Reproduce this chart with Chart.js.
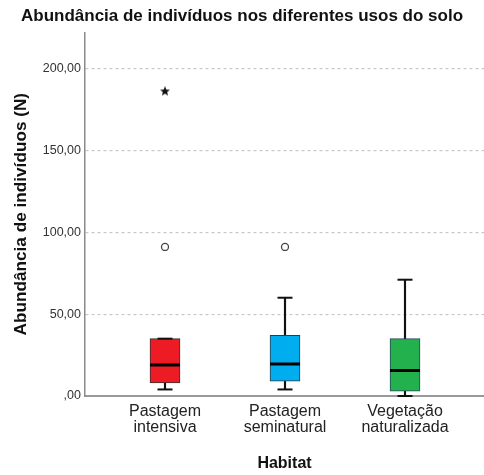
<!DOCTYPE html>
<html>
<head>
<meta charset="utf-8">
<script src="https://cdn.jsdelivr.net/npm/chart.js@4/dist/chart.umd.min.js"></script>
<style>
  html, body { margin: 0; padding: 0; background: #fff; }
  #wrap { width: 484px; height: 475px; }
</style>
</head>
<body>
<div id="wrap"><canvas id="c" width="484" height="475"></canvas></div>
<script>
// Habitat groups (x-axis categories, two-line labels)
const categories = [
  ['Pastagem', 'intensiva'],
  ['Pastagem', 'seminatural'],
  ['Vegetação', 'naturalizada']
];
// Box-plot summary per habitat
const whiskerLow  = [4, 4, 0];
const q1          = [8, 9, 3];
const median      = [19, 19.5, 15.5];
const q3          = [35, 37, 35];
const whiskerHigh = [35, 60, 71];
// Outliers (circles) and extreme values (stars)
const outliers = [[91], [91], []];
const extremes = [[186], [], []];
// Y-axis tick values
const yTicks = [0, 50, 100, 150, 200];

const boxColors = ['#ED1C24', '#00AEEF', '#22B14C'];
const boxBorders = ['#333333', '#2f3a44', '#2a4660'];
const FONT = '"Liberation Sans", Arial, sans-serif';

const xs = categories.map((_, i) => i + 1);

// filled five-point star used as marker for extreme values
function makeStar(size, outer, inner) {
  const c = document.createElement('canvas');
  c.width = size; c.height = size;
  const g = c.getContext('2d');
  const cx = size / 2, cy = size / 2;
  g.beginPath();
  for (let k = 0; k < 10; k++) {
    const r = k % 2 === 0 ? outer : inner;
    const a = -Math.PI / 2 + k * Math.PI / 5;
    const px = cx + r * Math.cos(a), py = cy + r * Math.sin(a);
    if (k === 0) g.moveTo(px, py); else g.lineTo(px, py);
  }
  g.closePath();
  g.fillStyle = '#111';
  g.fill();
  return c;
}
const starImg = makeStar(12, 5.2, 2.2);

const boxData = xs.map((x, i) => ({ x, y: [q1[i], q3[i]] }));
const whiskerData = [];
xs.forEach((x, i) => {
  whiskerData.push({ x, y: [whiskerLow[i], q1[i]] });
  whiskerData.push({ x, y: [q3[i], whiskerHigh[i]] });
});
const medianData = xs.map((x, i) => ({ x, y: median[i] }));
const capData = [];
xs.forEach((x, i) => {
  capData.push({ x, y: whiskerLow[i] });
  capData.push({ x, y: whiskerHigh[i] });
});
const outlierData = [];
outliers.forEach((arr, i) => arr.forEach(v => outlierData.push({ x: xs[i], y: v })));
const extremeData = [];
extremes.forEach((arr, i) => arr.forEach(v => extremeData.push({ x: xs[i], y: v })));

const fmt = v => (v === 0 ? ',00' : v.toFixed(2).replace('.', ','));

new Chart(document.getElementById('c'), {
  type: 'bar',
  data: {
    datasets: [
      {
        type: 'bar', data: boxData, order: 2, grouped: false,
        barThickness: 30, backgroundColor: boxColors, borderColor: boxBorders,
        borderWidth: 1, borderSkipped: false
      },
      {
        type: 'bar', data: whiskerData, order: 3, grouped: false,
        barThickness: 1.5, backgroundColor: '#111', borderWidth: 0
      },
      {
        type: 'line', data: capData, order: 1, showLine: false, clip: false,
        pointStyle: 'line', pointRadius: 7.5, pointBorderWidth: 2, pointBorderColor: '#111'
      },
      {
        type: 'line', data: medianData, order: 1, showLine: false,
        pointStyle: 'line', pointRadius: 15, pointBorderWidth: 3, pointBorderColor: '#000'
      },
      {
        type: 'line', data: outlierData, order: 0, showLine: false,
        pointStyle: 'circle', pointRadius: 3.5, pointBackgroundColor: '#fff',
        pointBorderColor: '#444', pointBorderWidth: 1.3
      },
      {
        type: 'line', data: extremeData, order: 0, showLine: false,
        pointStyle: starImg
      }
    ]
  },
  options: {
    responsive: false,
    animation: false,
    events: [],
    layout: { padding: 0, autoPadding: false },
    plugins: {
      legend: { display: false },
      tooltip: { enabled: false },
      title: {
        display: true,
        text: 'Abundância de indivíduos nos diferentes usos do solo',
        color: '#111',
        font: { family: FONT, size: 17, weight: 'bold' },
        padding: { top: 6, bottom: 6 }
      }
    },
    scales: {
      x: {
        type: 'linear',
        offset: false,
        min: 1 - 80 / 120,
        max: 1 - 80 / 120 + 399 / 120,
        afterFit: s => { s.height = 79; s.paddingLeft = 0; s.paddingRight = 0; },
        afterBuildTicks: s => { s.ticks = xs.map(v => ({ value: v })); },
        grid: { display: false, drawTicks: false },
        border: { display: true, color: '#999', width: 2 },
        ticks: {
          autoSkip: false, maxRotation: 0, padding: 8, color: '#222',
          font: { family: FONT, size: 16, lineHeight: 1.0 },
          callback: v => categories[Math.round(v) - 1] || ''
        },
        title: {
          display: true, text: 'Habitat', color: '#111',
          font: { family: FONT, size: 16, weight: 'bold' },
          padding: { top: 0, bottom: 2 }
        }
      },
      y: {
        min: 0,
        max: 222,
        afterFit: s => { s.width = 85; },
        afterBuildTicks: s => { s.ticks = yTicks.map(v => ({ value: v })); },
        grid: { color: '#c8c8c8', lineWidth: 1.2, drawTicks: false },
        border: { display: true, color: '#8a8a8a', width: 1.5, dash: [3, 3] },
        ticks: {
          padding: 4, color: '#333',
          font: { family: FONT, size: 12.5 },
          callback: v => fmt(v)
        },
        title: {
          display: true, text: 'Abundância de indivíduos (N)', color: '#111',
          font: { family: FONT, size: 17.2, weight: 'bold' },
          padding: { top: 11, bottom: 0 }
        }
      }
    }
  }
});
</script>
</body>
</html>
